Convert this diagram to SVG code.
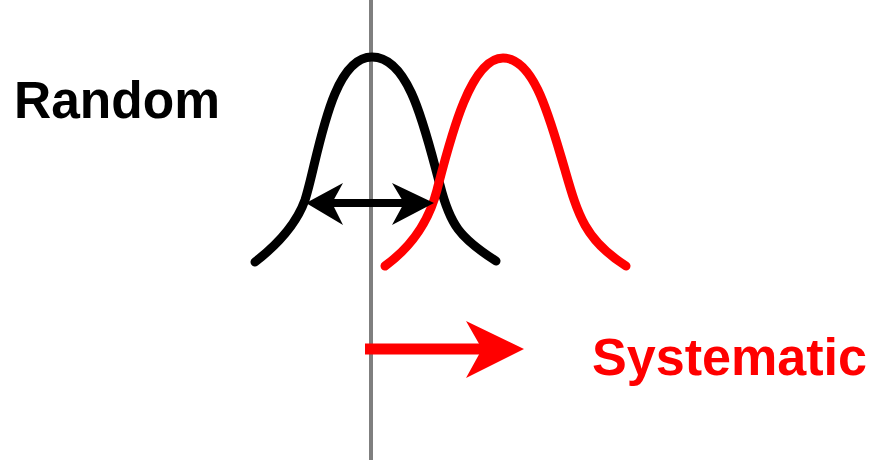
<svg xmlns="http://www.w3.org/2000/svg" width="872" height="460" viewBox="0 0 872 460">
<style>
.curve{fill:none;stroke-width:9;stroke-linecap:round;stroke-linejoin:round}
.lbl{font-family:"Liberation Sans",Arial,sans-serif;font-weight:bold;font-size:51px}
</style>
<rect width="872" height="460" fill="#fff"/>
<g id="axis"><line x1="371" y1="0" x2="371" y2="460" stroke="#7f7f7f" stroke-width="4"/></g>
<g id="random-curve"><path class="curve" stroke="#000" d="M255,262 C277,245 296,225 305,200 C318,160 330,57 372,57 C410,57 425,130 440,185 C450,225 460,238 496,261"/></g>
<g id="systematic-curve"><path class="curve" stroke="#ff0000" d="M385,266 C407,250 428,225 437,190 C450,140 470,58 503,58 C535,58 550,120 565,170 C578,215 585,240 626,266"/></g>
<g id="connectors">
<line x1="325" y1="203" x2="415" y2="203" stroke="#000" stroke-width="8"/>
<path d="M306,203 L343,183 L332,203 L343,225 Z" fill="#000"/>
<path d="M434,203 L392,183 L404,203 L392,225 Z" fill="#000"/>
<line x1="365" y1="349" x2="490" y2="349" stroke="#ff0000" stroke-width="11"/>
<path d="M524,349 L466,321 L482,349 L466,378 Z" fill="#ff0000"/>
</g>
<g id="random-label"><text class="lbl" x="14" y="118" fill="#000" textLength="206" lengthAdjust="spacingAndGlyphs">Random</text></g>
<g id="systematic-label"><text class="lbl" x="592" y="375" fill="#ff0000" textLength="275" lengthAdjust="spacingAndGlyphs">Systematic</text></g>
</svg>
